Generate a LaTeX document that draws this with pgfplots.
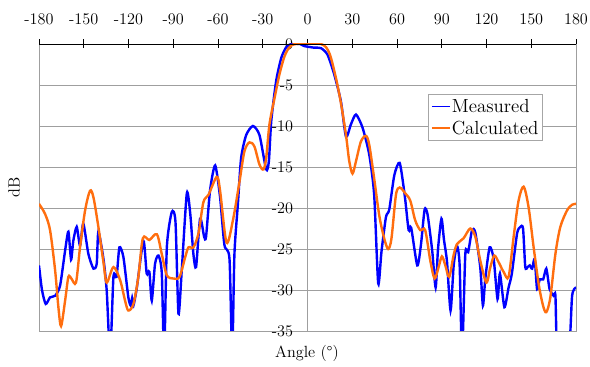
\documentclass[border=0pt]{standalone}
\usepackage{pgfplots}
\pgfplotsset{compat=1.18}
\definecolor{meas}{RGB}{0,0,255}
\definecolor{calc}{RGB}{255,110,15}
\newcommand{\enl}[1]{\scalebox{1.13}{#1}}
\newcommand{\enlg}[1]{\scalebox{1.32}{#1}}
\begin{document}
\begin{tikzpicture}[font=\fontsize{14.4}{17}\selectfont]
\useasboundingbox (-39bp,-36bp) rectangle (551bp,331bp);
\begin{axis}[
  scale only axis, width=537bp, height=287bp,
  at={(0,0)}, anchor=south west,
  xmin=-180, xmax=180, ymin=-35, ymax=0,
  clip mode=individual,
  axis line style={gray!75, line width=0.8bp},
  xtick={-180,-150,...,180},
  xticklabels={},
  xtick pos=right,
  tick align=center, major tick length=9bp,
  xtick style={black, line width=0.8bp},
  yticklabel={\enl{\axisdefaultticklabel}},
  ytick={-35,-30,...,0},
  ytick style={draw=none},
  ymajorgrids, grid style={gray!75, line width=0.8bp},
  /pgf/number format/assume math mode=true,
  tick label style={font=\fontsize{14.4}{17}\selectfont},
  yticklabel style={anchor=east, xshift=262bp},
  legend style={at={(0.724,0.826)}, anchor=north west, draw=gray!70, fill=white,
    font=\fontsize{14.4}{17}\selectfont, inner xsep=3bp, inner ysep=3bp, row sep=3bp,
    nodes={inner xsep=1bp, inner ysep=2bp}},
  legend cell align=left,
  legend image code/.code={\draw[#1, line width=1.8bp] (0bp,0bp) -- (18bp,0bp);},
]
\draw[gray!75, line width=0.8bp] (axis cs:0,-35) -- (axis cs:0,0);
\pgfplotsinvokeforeach{-180,-150,-120,-90,-60,-30,0,30,60,90,120,150,180}{
  \node[anchor=base, inner sep=0pt, yshift=19bp] at (axis cs:#1,0) {\enl{#1}};
}
\addplot[meas, line width=2.4bp, smooth, tension=0.4] coordinates {
(-180,-27.0) (-178,-30.0) (-175.5,-31.7) (-172.6,-30.9) (-169.2,-30.7) (-165.9,-29.5)
(-162.5,-25.2) (-160.3,-22.9) (-158.5,-26.3) (-157,-24.0) (-154.7,-22.3) (-152.5,-24.6)
(-150.3,-21.9) (-146.9,-25.6) (-143.5,-27.4) (-141.3,-26.8) (-140.2,-22.9) (-136.8,-26.2)
(-134.6,-30.1) (-132.3,-38) (-130.1,-28.4) (-128,-28.4) (-126.1,-24.8) (-123.4,-26.0)
(-120.1,-30.9) (-118.5,-31.9) (-117.6,-31.0) (-116.7,-31.9) (-114.4,-29.7) (-110,-24.0)
(-107.8,-28.0) (-106,-27.8) (-104.4,-31.3) (-102.2,-26.8) (-99.9,-25.8) (-97.7,-27.9)
(-96.1,-38) (-94.3,-24.8) (-91,-20.5) (-88.5,-21.7) (-86.5,-32.9) (-84.3,-27.6)
(-80.9,-18.2) (-78.6,-20.7) (-76.5,-25.6) (-74.7,-27.2) (-72,-21.3) (-69.3,-23.5)
(-68,-23.5) (-65.3,-17.8) (-61.9,-14.8) (-58.6,-18.7) (-55.7,-24.5) (-52.3,-26.2)
(-50.5,-38) (-49,-25.7) (-46.7,-19.6) (-44.5,-13.9) (-41.1,-11.1) (-36.6,-10.0)
(-32.2,-11.1) (-27.7,-15.3) (-25.9,-14.3) (-24.3,-9.4) (-21,-4.5) (-17.6,-1.7)
(-14.3,-0.4) (-10.9,0) (-5,0) (-2.2,-0.25) (4.5,-0.45) (9,-0.5) (13.4,-1.3)
(17.9,-3.7) (22.4,-7.0) (25.8,-11.3) (29.1,-9.8) (32.5,-8.6) (36.9,-10.2) (41.4,-13.5)
(44.7,-18.4) (47.4,-29.2) (49.6,-25.3) (52.6,-21.1) (54.8,-20.2) (58.2,-16.0)
(61.8,-14.5) (65.2,-18.5) (67.8,-22.7) (69.5,-22.4) (73.6,-27.0) (76.1,-24.4)
(78.5,-20.2) (80.5,-20.8) (83.6,-25.2) (85.9,-29.7) (87.5,-25) (89.8,-21.3)
(91.5,-23.9) (93.5,-26.5) (95.9,-32.5) (98,-27) (100.2,-24.6) (102,-27) (103.6,-38)
(105.8,-25.6) (107.7,-25.4) (110.3,-22.7) (112.5,-23) (115.8,-27.2) (117.6,-31.9)
(119.2,-28.6) (122.1,-24.8) (124.8,-26.2) (127.4,-31.1) (129,-28.0) (132,-32.1)
(134.8,-29.7) (137,-28.0) (140.5,-23.1) (142.7,-22.3) (144.5,-22.5) (146,-27.2)
(147.6,-27.2) (149,-27) (150.6,-27.4) (152.3,-26.2) (153.9,-29.9) (155.7,-28.7)
(158,-28.7) (160.1,-27.4) (162.3,-29.9) (165,-30.7) (166.2,-30.7) (167.7,-38)
(175,-38) (177.4,-30.7) (180,-29.7)
};
\addlegendentry{\enlg{Measured}}
\addplot[calc, line width=2.4bp, smooth, tension=0.5] coordinates {
(-180,-19.5) (-176,-20.7) (-172.6,-22.7) (-169.2,-27.6) (-167,-32.1) (-165.2,-34.4)
(-162.5,-31.3) (-160.3,-28.4) (-158.3,-28.6) (-155.2,-29.1) (-152.5,-24.8) (-149.1,-20.3)
(-145.8,-17.9) (-143.5,-18.7) (-140.2,-22.3) (-136.8,-26.6) (-134.6,-29.1) (-130.1,-27.2)
(-125.6,-28.8) (-122.3,-31.3) (-120.1,-32.5) (-116.7,-31.7) (-113.4,-28.4) (-110.4,-23.7)
(-106,-23.9) (-101,-23.2) (-97.7,-25.6) (-94.3,-28.2) (-89.9,-28.6) (-85.8,-28.4)
(-82,-26.0) (-79.8,-24.8) (-76.5,-24.8) (-73.1,-23.1) (-69.8,-19.3) (-66.4,-18.4)
(-60.8,-16.2) (-58.6,-17.9) (-54.3,-24.2) (-50,-21.5) (-45.6,-16.8) (-42.3,-13.1)
(-38.9,-12.0) (-35.6,-12.5) (-32.2,-14.7) (-29.5,-15.3) (-27.7,-13.9) (-25.5,-9.8)
(-22.1,-6.6) (-18.8,-3.7) (-15.4,-1.5) (-12.1,-0.4) (-7.6,0) (9,0) (14.6,-1.1)
(19,-4.1) (22.4,-7.2) (25.8,-11.1) (28,-14.3) (30.2,-15.8) (32.5,-14.3) (35.8,-11.9)
(39.2,-11.2) (41.4,-12.3) (44.7,-16.4) (48.1,-20.9) (51.4,-23.7) (54.1,-25.0)
(56.3,-23.7) (59.3,-18.4) (61.8,-17.5) (65.5,-18.2) (68.9,-19.1) (72.2,-21.5)
(75.6,-22.7) (78.9,-22.7) (82.3,-26.4) (85.2,-28.6) (87.9,-27.2) (90.1,-25.9)
(92.4,-27.0) (95,-28.4) (97.9,-25.8) (100.2,-24.4) (104.6,-23.7) (109.1,-22.5)
(112.5,-23.5) (115.8,-26.4) (119.9,-29.1) (122.6,-27.2) (125.2,-25.8) (128.1,-26.6)
(131.5,-27.8) (134.8,-28.4) (138.2,-23.5) (141.5,-19.1) (144.9,-17.4) (148.2,-19.9)
(151.6,-24.8) (155,-29.3) (157.9,-31.9) (160.1,-32.7) (162.8,-30.9) (166.2,-25.6)
(169.5,-22.3) (174,-20.3) (177.4,-19.6) (180,-19.5)
};
\addlegendentry{\enlg{Calculated}}
\draw[black, line width=0.8bp] (rel axis cs:0,1) -- (rel axis cs:1,1);
\end{axis}
\node[rotate=90] at (-25bp,143.5bp) {\enl{dB}};
\node at (268bp,-22bp) {\enl{Angle (\textdegree)}};
\end{tikzpicture}
\end{document}
